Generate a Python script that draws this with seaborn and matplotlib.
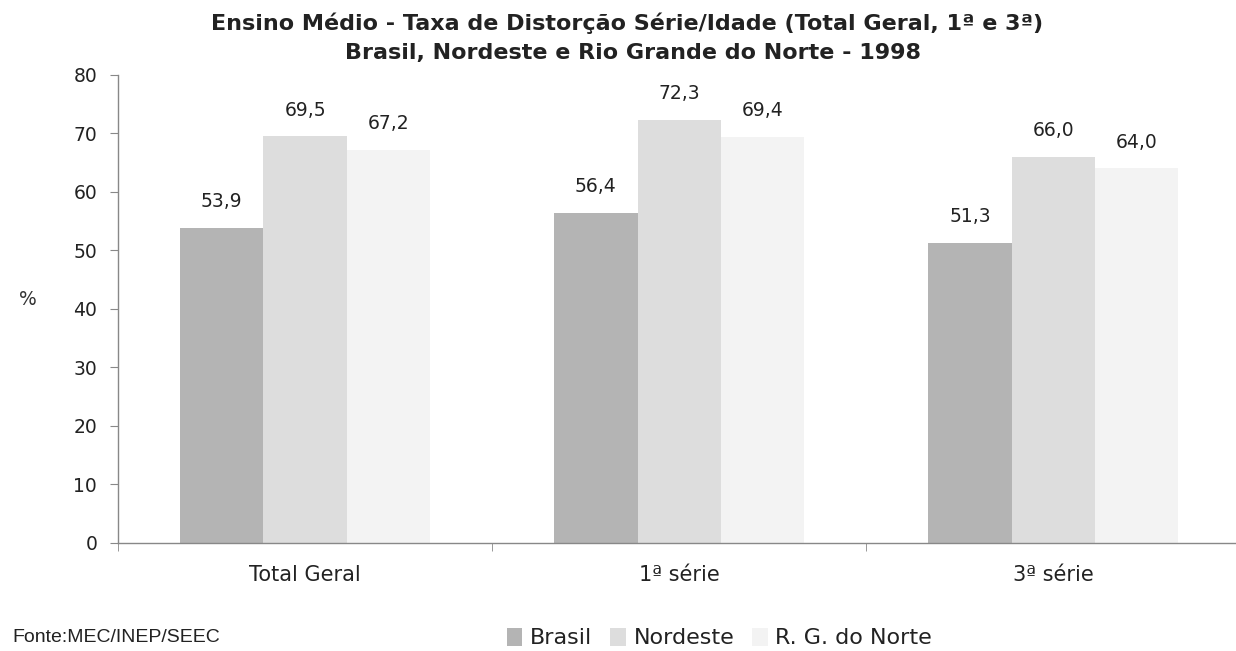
import numpy as np
import pandas as pd
import matplotlib
matplotlib.use("Agg")
import matplotlib.pyplot as plt
from matplotlib import font_manager
import seaborn as sns

# dados (%)
categorias = ["Total Geral", "1ª série", "3ª série"]
regioes = ["Brasil", "Nordeste", "R. G. do Norte"]
brasil = [53.9, 56.4, 51.3]
nordeste = [69.5, 72.3, 66.0]
rg_norte = [67.2, 69.4, 64.0]
y_ticks = [0, 10, 20, 30, 40, 50, 60, 70, 80]

cores = ["#b4b4b4", "#dddddd", "#f3f3f3"]

df = pd.DataFrame({
    "categoria": categorias * 3,
    "regiao": [r for r in regioes for _ in categorias],
    "valor": brasil + nordeste + rg_norte,
})

sns.set_style("white")
plt.rcParams["font.family"] = ["DejaVu Sans"]

nomes = {f.name for f in font_manager.fontManager.ttflist}
fonte_narrow = "Liberation Sans Narrow" if "Liberation Sans Narrow" in nomes else None

fig = plt.figure(figsize=(12.36, 6.51), dpi=100)
ax = fig.add_axes([0.0955, 0.166, 0.908, 0.719])

sns.barplot(data=df, x="categoria", y="valor", hue="regiao", order=categorias,
            hue_order=regioes, palette=cores, width=0.668, saturation=1,
            edgecolor="none", linewidth=0, ax=ax, legend=True)

for cont in ax.containers:
    ax.bar_label(cont, labels=[f"{v:.1f}".replace(".", ",") for v in cont.datavalues],
                 padding=12, fontsize=13.5, color="#222222")

ax.set_xlim(-0.5, 2.5)
ax.set_ylim(0, 80)
ax.set_yticks(y_ticks)
ax.tick_params(axis="y", labelsize=13.5, length=6, color="#888888", pad=9,
               left=True, labelcolor="#222222")
ax.set_xticks([0, 1, 2])
ax.set_xticklabels(categorias)
ax.tick_params(axis="x", labelsize=15, length=0, pad=16, labelcolor="#222222")
ax.set_xticks([-0.5, 0.5, 1.5, 2.5], minor=True)
ax.tick_params(axis="x", which="minor", length=6, color="#888888", bottom=True)

ax.set_xlabel("")
ax.set_ylabel("%", rotation=0, fontsize=13.5, color="#333333")
ax.yaxis.set_label_coords(-0.08, 0.5)

for s in ["top", "right"]:
    ax.spines[s].set_visible(False)
for s in ["left", "bottom"]:
    ax.spines[s].set_color("#888888")
    ax.spines[s].set_linewidth(1)

fig.text(0.507, 0.964, "Ensino Médio - Taxa de Distorção Série/Idade (Total Geral, 1ª e 3ª)",
         ha="center", va="center", fontsize=16, fontweight="bold", color="#222222")
fig.text(0.512, 0.918, "Brasil, Nordeste e Rio Grande do Norte - 1998",
         ha="center", va="center", fontsize=16, fontweight="bold", color="#222222")

handles, labels = ax.get_legend_handles_labels()
ax.get_legend().remove()
fig.legend(handles, labels, loc="center left", bbox_to_anchor=(0.41, 0.02), ncol=3,
           frameon=False, fontsize=16, handlelength=0.7, handleheight=0.9,
           handletextpad=0.35, columnspacing=0.8, labelcolor="#222222",
           borderpad=0, borderaxespad=0)

if fonte_narrow:
    fig.text(0.01, 0.02, "Fonte:MEC/INEP/SEEC", ha="left", va="center", fontsize=16,
             family=[fonte_narrow, "DejaVu Sans"], color="#222222")
else:
    fig.text(0.01, 0.02, "Fonte:MEC/INEP/SEEC", ha="left", va="center", fontsize=14,
             family=["Liberation Sans", "DejaVu Sans"], color="#222222")

fig.savefig("out.png", dpi=100)
